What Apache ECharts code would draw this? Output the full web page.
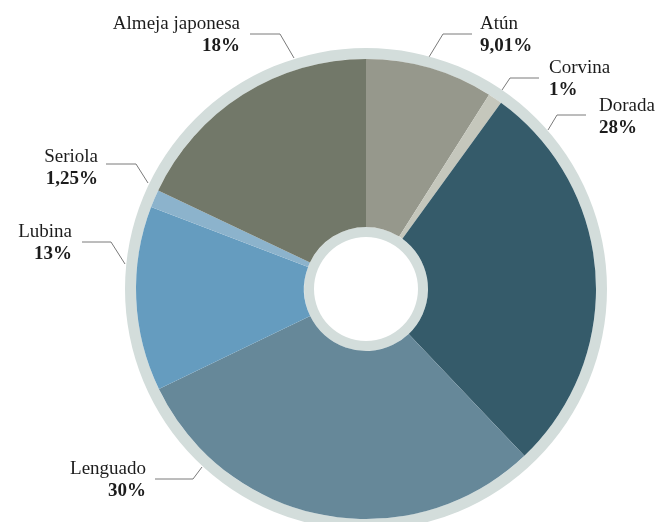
<!DOCTYPE html>
<html>
<head>
<meta charset="utf-8">
<script src="https://cdn.jsdelivr.net/npm/echarts@6/dist/echarts.min.js"></script>
<style>
  html, body { margin: 0; padding: 0; background: #ffffff; }
  #chart { width: 670px; height: 522px; }
</style>
</head>
<body>
<div id="chart"></div>
<script>
// Species share (%) in clockwise order from the top
const species = ['Atún', 'Corvina', 'Dorada', 'Lenguado', 'Lubina', 'Seriola', 'Almeja japonesa'];
const shares = [9.01, 1, 28, 30, 13, 1.25, 18];
const colors = ['#96988c', '#c5c7bc', '#355b6a', '#668899', '#659cbf', '#8cb3cc', '#727869'];

// Callout placement: text anchor, alignment and leader-line path for each species
const callouts = [
  { x: 480, y: 35, align: 'left',  line: [[429, 57], [443, 34], [472, 34]] },
  { x: 549, y: 79, align: 'left',  line: [[502, 90], [510, 78], [539, 78]] },
  { x: 599, y: 117, align: 'left', line: [[548, 130], [557, 115], [586, 115]] },
  { x: 146, y: 480, align: 'right', line: [[202, 467], [193, 479], [155, 479]] },
  { x: 72,  y: 243, align: 'right', line: [[125, 264], [111, 242], [82, 242]] },
  { x: 98,  y: 168, align: 'right', line: [[148, 183], [136, 164], [106, 164]] },
  { x: 240, y: 35, align: 'right', line: [[294, 58], [280, 34], [250, 34]] }
];

const ringColor = '#d3dddb';
const center = [366, 289];
const fmtPct = v => String(v).replace('.', ',') + '%';

const chart = echarts.init(document.getElementById('chart'), null, { renderer: 'canvas' });

const ring = (inner, outer) => ({
  type: 'pie',
  silent: true,
  center: center,
  radius: [inner, outer],
  label: { show: false },
  labelLine: { show: false },
  itemStyle: { color: ringColor },
  data: [{ value: 1, name: '' }]
});

chart.setOption({
  animation: false,
  backgroundColor: '#ffffff',
  series: [
    ring(52, 62),
    ring(230, 241),
    {
      type: 'pie',
      center: center,
      radius: [62, 230],
      startAngle: 90,
      clockwise: true,
      silent: true,
      data: species.map((name, i) => ({
        name: name,
        value: shares[i],
        itemStyle: { color: colors[i] }
      })),
      label: {
        show: true,
        overflow: 'none',
        formatter: p => '{n|' + p.name + '}\n{p|' + fmtPct(p.value) + '}',
        rich: {
          n: { fontFamily: 'Liberation Serif', fontSize: 19, lineHeight: 22, color: '#1c1c1c' },
          p: { fontFamily: 'Liberation Serif', fontSize: 19, lineHeight: 22, fontWeight: 'bold', color: '#1c1c1c' }
        }
      },
      labelLine: {
        show: true,
        lineStyle: { color: '#7a7a7a', width: 1 }
      },
      labelLayout: params => {
        const c = callouts[params.dataIndex];
        return {
          x: c.x,
          y: c.y,
          align: c.align,
          verticalAlign: 'middle',
          labelLinePoints: c.line
        };
      }
    }
  ]
});
</script>
</body>
</html>
